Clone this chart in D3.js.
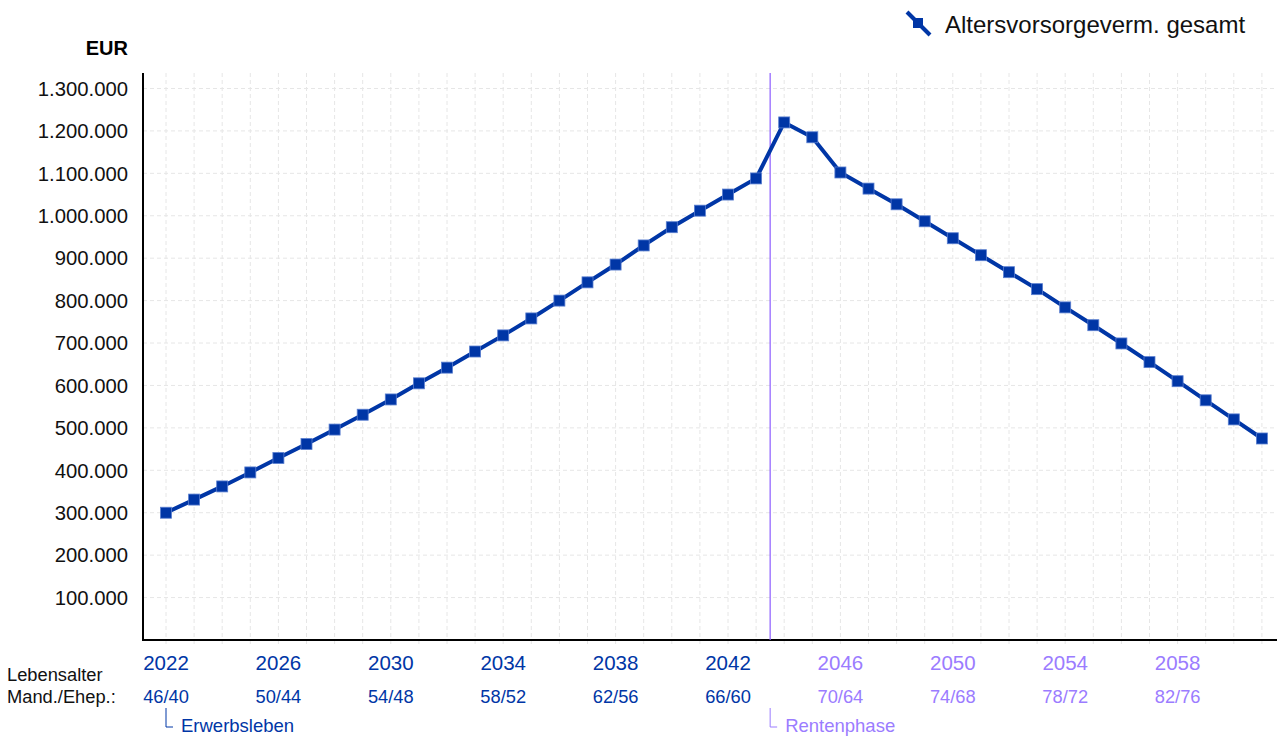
<!DOCTYPE html>
<html>
<head>
<meta charset="utf-8">
<script src="https://cdn.jsdelivr.net/npm/d3@7"></script>
<style>
  body { margin: 0; background: #fff; }
  svg { font-family: "Liberation Sans", Arial, sans-serif; }
</style>
</head>
<body>
<div id="chart"></div>
<script>
const years = d3.range(2022, 2062);
const values = [300000, 331000, 362000, 395000, 429000, 462000, 496000, 531000, 567000, 605000,
    642000, 680000, 718000, 758000, 800000, 843000, 885000, 930000, 973000, 1012000,
    1050000, 1088000, 1220000, 1185000, 1102000, 1064000, 1027000, 987000, 947000, 907000,
    867000, 827000, 784000, 742000, 699000, 655000, 610000, 565000, 520000, 475000];
const tickYears = [2022, 2026, 2030, 2034, 2038, 2042, 2046, 2050, 2054, 2058];
const ageLabels = ["46/40", "50/44", "54/48", "58/52", "62/56", "66/60", "70/64", "74/68", "78/72", "82/76"];
const yTicks = [100000, 200000, 300000, 400000, 500000, 600000, 700000, 800000, 900000, 1000000, 1100000, 1200000, 1300000];
const retirementStart = 2043.5;
const seriesName = "Altersvorsorgeverm. gesamt";

const width = 1277, height = 736;
const margin = {top: 73, right: 0, bottom: 96, left: 143};
const blue = "#0036a6", purple = "#9b7cff", lineViolet = "#8c5cff";

const svg = d3.select("#chart").append("svg")
    .attr("width", width)
    .attr("height", height);

const x = d3.scaleLinear()
    .domain([2022, 2022 + (width - margin.left - 23) / 28.1])
    .range([margin.left + 23, width]);
const y = d3.scaleLinear()
    .domain([0, 1336500])
    .range([height - margin.bottom, margin.top]);

// grid
const grid = svg.append("g").attr("class", "grid");
grid.selectAll("line.h")
    .data(yTicks)
    .enter().append("line")
    .attr("x1", margin.left).attr("x2", width)
    .attr("y1", d => y(d)).attr("y2", d => y(d))
    .style("stroke", "#e6e6e6").style("stroke-dasharray", "4,3");
grid.selectAll("line.v")
    .data(years)
    .enter().append("line")
    .attr("x1", d => x(d)).attr("x2", d => x(d))
    .attr("y1", margin.top).attr("y2", height - margin.bottom + 4)
    .style("stroke", "#e6e6e6").style("stroke-dasharray", "4,3");

// axes
svg.append("line")
    .attr("x1", margin.left).attr("x2", margin.left)
    .attr("y1", margin.top).attr("y2", height - margin.bottom + 1)
    .style("stroke", "#000").style("stroke-width", 2);
svg.append("line")
    .attr("x1", margin.left - 1).attr("x2", width)
    .attr("y1", height - margin.bottom).attr("y2", height - margin.bottom)
    .style("stroke", "#000").style("stroke-width", 2);

svg.append("g")
    .selectAll("text")
    .data(yTicks)
    .enter().append("text")
    .attr("x", 128)
    .attr("y", d => y(d))
    .attr("dy", "0.36em")
    .attr("text-anchor", "end")
    .attr("font-size", 20.3)
    .attr("fill", "#111")
    .text(d => d3.format(",")(d).replace(/,/g, "."));

svg.append("text")
    .attr("x", 128).attr("y", 55)
    .attr("text-anchor", "end")
    .attr("font-size", 20)
    .attr("font-weight", "bold")
    .text("EUR");

// retirement line
svg.append("line")
    .attr("x1", x(retirementStart)).attr("x2", x(retirementStart))
    .attr("y1", margin.top).attr("y2", height - margin.bottom)
    .style("stroke", lineViolet).style("stroke-width", 1.2);

// x labels
const xl = svg.append("g");
xl.selectAll("text.year")
    .data(tickYears)
    .enter().append("text")
    .attr("x", d => x(d)).attr("y", 670)
    .attr("text-anchor", "middle")
    .attr("font-size", 20.5)
    .attr("fill", d => d < retirementStart ? blue : purple)
    .text(d => d);
xl.selectAll("text.age")
    .data(tickYears)
    .enter().append("text")
    .attr("x", d => x(d)).attr("y", 703)
    .attr("text-anchor", "middle")
    .attr("font-size", 18.3)
    .attr("fill", (d, i) => d < retirementStart ? blue : purple)
    .text((d, i) => ageLabels[i]);

svg.append("text").attr("x", 7).attr("y", 681).attr("font-size", 18.3).attr("fill", "#111").text("Lebensalter");
svg.append("text").attr("x", 7).attr("y", 703).attr("font-size", 18.3).attr("fill", "#111").text("Mand./Ehep.:");

function phaseLabel(xPos, label, color) {
    svg.append("path")
        .attr("d", `M${xPos},708 V727 H${xPos + 7}`)
        .style("fill", "none").style("stroke", color).style("stroke-width", 1);
    svg.append("text")
        .attr("x", xPos + 15).attr("y", 732)
        .attr("font-size", 18.5)
        .attr("fill", color)
        .text(label);
}
phaseLabel(x(2022), "Erwerbsleben", blue);
phaseLabel(x(retirementStart), "Rentenphase", purple);

// series
const points = years.map((yr, i) => ({x: yr, y: values[i]}));
svg.append("path")
    .datum(points)
    .attr("d", d3.line().x(d => x(d.x)).y(d => y(d.y)))
    .style("fill", "none")
    .style("stroke", blue)
    .style("stroke-width", 4);
svg.append("g")
    .selectAll("rect")
    .data(points)
    .enter().append("rect")
    .attr("x", d => x(d.x) - 5.5)
    .attr("y", d => y(d.y) - 5.5)
    .attr("width", 11).attr("height", 11)
    .style("fill", blue)
    .style("stroke", "#5a7fd0")
    .style("stroke-width", 0.8);

// legend
const lg = svg.append("g");
lg.append("line")
    .attr("x1", 907).attr("y1", 12).attr("x2", 930).attr("y2", 35)
    .style("stroke", blue).style("stroke-width", 4);
lg.append("rect")
    .attr("x", 913).attr("y", 18).attr("width", 10).attr("height", 10)
    .style("fill", blue);
lg.append("text")
    .attr("x", 945).attr("y", 33)
    .attr("font-size", 24)
    .attr("fill", "#111")
    .text(seriesName);
</script>
</body>
</html>
